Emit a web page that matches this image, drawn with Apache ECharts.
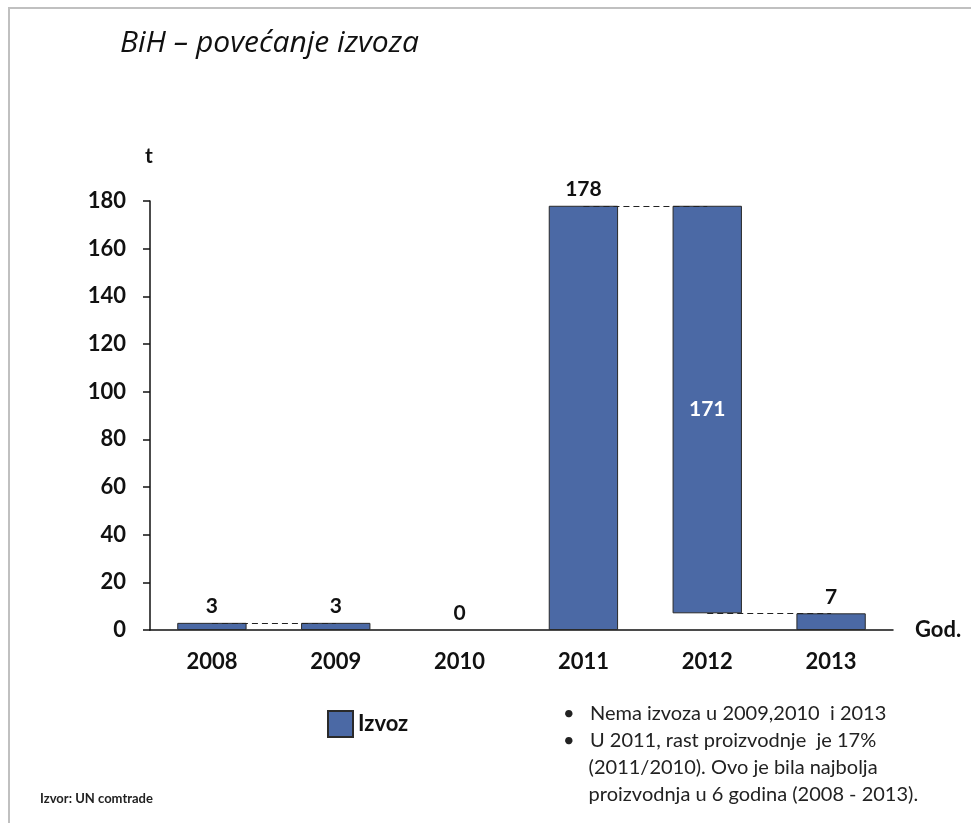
<!DOCTYPE html>
<html><head><meta charset="utf-8">
<script src="https://cdn.jsdelivr.net/npm/echarts@6/dist/echarts.min.js"></script>
<style>html,body{margin:0;padding:0;background:#fff}#c{width:971px;height:823px}</style>
</head><body><div id="c"></div>
<script>
const years = ['2008','2009','2010','2011','2012','2013'];
const exportsT = [3, 3, 0, 178, 171, 7];
const bases = [0, 0, 0, 0, 7, 0];
const yTicks = [0,20,40,60,80,100,120,140,160,180];
const connectors = [[0,1],[3,4],[4,5]]; // pairs of category indices joined by dashed lines
const connectorSide = ['top','top','bottom'];
const notes = [
  '•   Nema izvoza u 2009,2010  i 2013',
  '•   U 2011, rast proizvodnje  je 17%',
  '     (2011/2010). Ovo je bila najbolja',
  '     proizvodnja u 6 godina (2008 - 2013).'
];

const F = 'Lato, "Open Sans", sans-serif';
const chart = echarts.init(document.getElementById('c'));

function levelAt(i, side){
  return side === 'bottom' ? bases[i] : bases[i] + exportsT[i];
}
const markData = connectors.map((p, k) => {
  const v = levelAt(p[0], connectorSide[k]);
  return [{coord:[years[p[0]], v]}, {coord:[years[p[1]], v]}];
});
const barData = exportsT.map((v,i) => {
  if (bases[i] > 0) return {value:v, label:{position:'inside', color:'#fff'}};
  if (v === 0) return {value:v, itemStyle:{borderWidth:0, color:'transparent'}};
  return v;
});

chart.setOption({
  animation:false,
  graphic:[
    {type:'rect', shape:{x:9,y:8,width:1200,height:1000}, style:{fill:'none', stroke:'#c0c0c0', lineWidth:2}},
    {type:'text', left:120, top:28, style:{text:'BiH – povećanje izvoza', font:'italic 30px "Open Sans", sans-serif', fill:'#111'}},
    {type:'text', left:40, top:792, style:{text:'Izvor: UN comtrade', font:'bold 13px '+F, fill:'#222'}},
    {type:'text', left:563, top:700, style:{text:notes.join('\n'), font:'20px '+F, fill:'#222', lineHeight:27}}
  ],
  legend:{
    data:['Izvoz'], icon:'rect', left:322, top:705, itemWidth:25, itemHeight:26, itemGap:6,
    textStyle:{fontFamily:F, fontWeight:'bold', fontSize:22, color:'#111'}
  },
  grid:{left:150, right:78, top:201, bottom:193},
  xAxis:{
    type:'category', data:years,
    name:'God.', nameLocation:'end', nameGap:22,
    nameTextStyle:{fontFamily:F, fontWeight:'bold', fontSize:22, color:'#111'},
    axisLine:{lineStyle:{color:'#111', width:1.5}},
    axisTick:{show:false},
    axisLabel:{fontFamily:F, fontWeight:'bold', fontSize:22, color:'#111', margin:21}
  },
  yAxis:{
    type:'value', min:0, max:180, interval:20,
    name:'t', nameLocation:'end', nameGap:34,
    nameTextStyle:{fontFamily:F, fontWeight:'bold', fontSize:21, color:'#111', align:'left', padding:[0,0,0,-5]},
    axisLine:{show:true, lineStyle:{color:'#111', width:1.5}},
    axisTick:{show:true, length:7, lineStyle:{color:'#111', width:1.5}},
    splitLine:{show:false},
    axisLabel:{fontFamily:F, fontWeight:'bold', fontSize:22, color:'#111', margin:24,
      formatter: v => yTicks.indexOf(v) >= 0 ? String(v) : ''}
  },
  series:[
    {type:'bar', stack:'w', data:bases, silent:true, z:3,
     itemStyle:{color:'transparent', borderColor:'transparent'}, barCategoryGap:'44%'},
    {name:'Izvoz', type:'bar', stack:'w', data:barData, z:3, barCategoryGap:'44%',
     itemStyle:{color:'#4b69a5', borderColor:'#2a2a2a', borderWidth:1},
     label:{show:true, fontFamily:F, fontWeight:'bold', fontSize:21,
       position:'top', distance:6, color:'#111',
       formatter: p => String(p.value)}
    },
    {type:'line', data:[], z:1, silent:true,
     markLine:{symbol:'none', silent:true, label:{show:false},
       lineStyle:{type:[6,4], color:'#222', width:1}, data:markData}}
  ]
});
</script></body></html>
